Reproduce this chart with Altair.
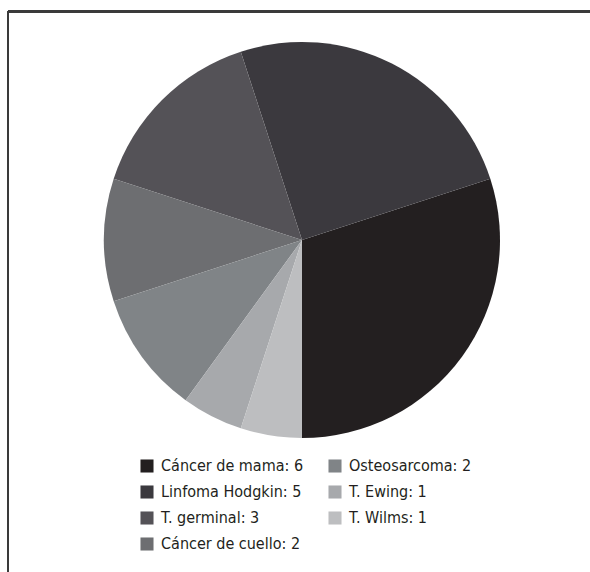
import math
import altair as alt
import pandas as pd

# Data
categories = ["Cáncer de mama", "Linfoma Hodgkin", "T. germinal", "Cáncer de cuello",
              "Osteosarcoma", "T. Ewing", "T. Wilms"]
values = [6, 5, 3, 2, 2, 1, 1]
colors = ["#231f20", "#3b393e", "#545257", "#6d6e71", "#808487", "#a7a9ac", "#bdbec0"]
# clockwise drawing order of slices starting at the bottom of the pie
pie_order = [7, 6, 5, 4, 3, 2, 1]

labels = [f"{c}: {v}" for c, v in zip(categories, values)]
df = pd.DataFrame({"label": labels, "value": values, "ord": pie_order})

pie = alt.Chart(df).mark_arc(stroke=None).encode(
    theta=alt.Theta("value:Q", stack=True, scale=alt.Scale(range=[math.pi, 3 * math.pi])),
    order=alt.Order("ord:Q", sort="ascending"),
    color=alt.Color(
        "label:N",
        scale=alt.Scale(domain=labels, range=colors),
        legend=alt.Legend(
            title=None,
            orient="none",
            legendX=139,
            legendY=458,
            columns=2,
            columnPadding=23,
            rowPadding=10,
            symbolType="square",
            symbolSize=170,
            symbolStrokeWidth=0,
            symbolOpacity=1,
            labelFont="'DejaVu Sans Condensed', 'Liberation Sans Narrow', Roboto, sans-serif",
            labelFontSize=16,
            labelColor="#231f20",
            labelOffset=6,
            labelLimit=300,
        ),
    ),
    x=alt.value(302),
    y=alt.value(240),
    radius=alt.value(198),
)

top_line = alt.Chart(df).mark_rule(color="#3a3a3a", strokeWidth=2).encode(
    x=alt.value(8), x2=alt.value(590), y=alt.value(11.5)
)
left_line = alt.Chart(df).mark_rule(color="#3a3a3a", strokeWidth=2).encode(
    x=alt.value(8), y=alt.value(11), y2=alt.value(572)
)

chart = alt.layer(pie, top_line, left_line).properties(
    width=590, height=572, padding=0, autosize=alt.AutoSizeParams(type="none"),
    background="white",
).configure_view(stroke=None)

chart.save("out.html", embed_options={"renderer": "svg", "actions": False})
